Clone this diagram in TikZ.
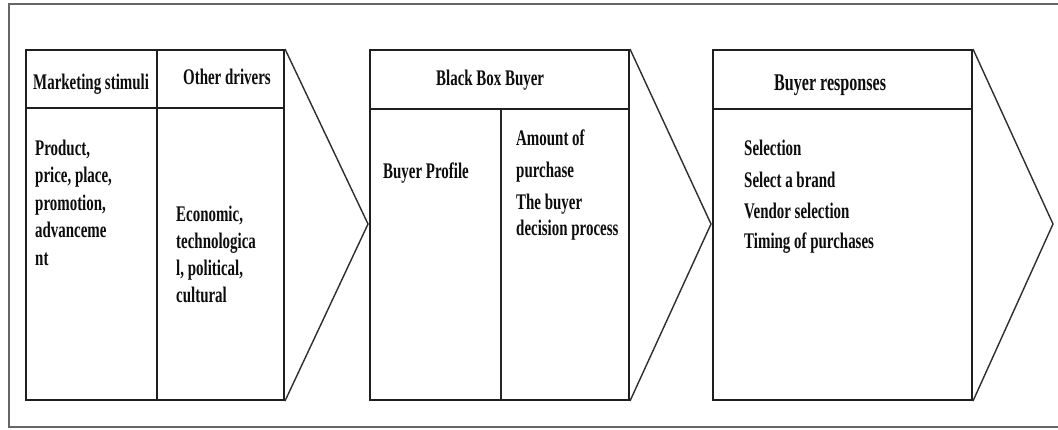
\documentclass[tikz,border=0pt]{standalone}
\usepackage{fontspec}
\setmainfont{Liberation Serif}[FakeStretch=0.67]
\begin{document}
\begin{tikzpicture}[x=1pt,y=-1pt,
  frame/.style={draw=black!60, line width=1.5pt},
  panel/.style={draw=black!88, line width=2pt, anchor=north west, inner sep=0pt, minimum height=350pt},
  rule/.style={draw=black!88, line width=1.8pt},
  thinrule/.style={draw=black!85, line width=1.2pt},
  chev/.style={draw=black!82, line width=1.4pt},
  lbl/.style={anchor=base west, inner sep=0pt, text=black!95, font=\bfseries\fontsize{22.3}{26}\selectfont},
  bighead/.style={lbl, font=\bfseries\fontsize{24}{28}\selectfont}]
\useasboundingbox (0,0) rectangle (1058,429);
\fill[white] (0,0) rectangle (1058,429);

% surrounding frame, open on the right
\draw[frame] (1062,4) -- (9,4) -- (9,427) -- (1062,427);

% three panels
\node[panel, minimum width=258pt] (p1) at (25,49) {};
\node[panel, minimum width=259pt] (p2) at (369,49) {};
\node[panel, minimum width=259pt] (p3) at (712,49) {};

% header rules and column dividers
\draw[rule] (25,108) -- (283,108);
\draw[rule] (157,49) -- (157,399);
\draw[rule] (369,109) -- (628,109);
\draw[thinrule] (501,109) -- (501,399);
\draw[rule] (712,109) -- (971,109);

% chevron tips
\coordinate (t1) at (368,224);
\coordinate (t2) at (711,224);
\coordinate (t3) at (1053,224);
\draw[chev] (p1.north east) -- (t1) -- (p1.south east);
\draw[chev] (p2.north east) -- (t2) -- (p2.south east);
\draw[chev] (p3.north east) -- (t3) -- (p3.south east);

% panel 1
\node[lbl] (h1a) at (33,89) {Marketing stimuli};
\node[lbl] (h1b) at (183,84) {Other drivers};
\node[lbl] (m1) at (35,155) {Product,};
\node[lbl] (m2) at (35,182.5) {price, place,};
\node[lbl] (m3) at (35,210) {promotion,};
\node[lbl] (m4) at (35,237.5) {advanceme};
\node[lbl] (m5) at (35,265) {nt};
\node[lbl] (d1) at (176,221) {Economic,};
\node[lbl] (d2) at (176,248) {technologica};
\node[lbl] (d3) at (176,275) {l, political,};
\node[lbl] (d4) at (176,302) {cultural};

% panel 2
\node[lbl] (h2) at (436,85) {Black Box Buyer};
\node[lbl] (bp) at (383,178) {Buyer Profile};
\node[lbl] (a1) at (516,145) {Amount of};
\node[lbl] (a2) at (516,177) {purchase};
\node[lbl] (a3) at (516,209) {The buyer};
\node[lbl] (a4) at (516,235) {decision process};

% panel 3
\node[bighead] (h3) at (774,90) {Buyer responses};
\node[lbl] (r1) at (744,155) {Selection};
\node[lbl] (r2) at (744,187) {Select a brand};
\node[lbl] (r3) at (744,218) {Vendor selection};
\node[lbl] (r4) at (744,248) {Timing of purchases};
\end{tikzpicture}
\end{document}
